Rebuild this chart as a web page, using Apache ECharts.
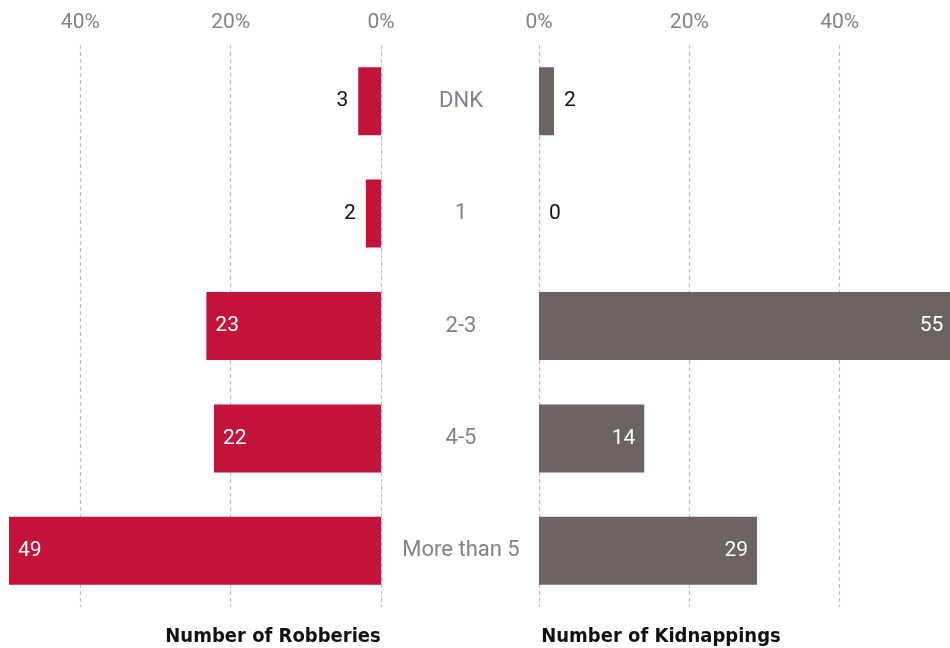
<!DOCTYPE html>
<html>
<head>
<meta charset="utf-8">
<script src="https://cdn.jsdelivr.net/npm/echarts@6/dist/echarts.min.js"></script>
<style>html,body{margin:0;padding:0;background:#fff}#c{width:950px;height:648px}</style>
</head>
<body>
<div id="c"></div>
<script>
const categories = ['DNK', '1', '2-3', '4-5', 'More than 5'];
const robberies = [3, 2, 23, 22, 49];
const kidnappings = [2, 0, 55, 14, 29];
const leftTitle = 'Number of Robberies';
const rightTitle = 'Number of Kidnappings';

const RED = '#c3133b';
const GRAY = '#6c6462';
const LABEL_GRAY = '#82828f';
const FONT = 'Roboto, "Noto Sans", sans-serif';

function share(arr) {
  const total = arr.reduce((a, b) => a + b, 0);
  return arr.map(v => v / total * 100);
}

function labelFor(v, side) {
  const big = v >= 10;
  const base = {show: true, fontSize: 21, fontFamily: FONT, formatter: String(v)};
  if (side === 'left') {
    return Object.assign(base, big ? {position: 'insideLeft', distance: 9, color: '#fff'}
                                   : {position: 'left', distance: 10, color: '#111'});
  }
  return Object.assign(base, big ? {position: 'insideRight', distance: 9, color: '#fff'}
                                 : {position: 'right', distance: 10, color: '#111'});
}

function seriesData(arr, side) {
  const pct = share(arr);
  return arr.map((v, i) => ({value: pct[i], label: labelFor(v, side)}));
}

const chart = echarts.init(document.getElementById('c'));
const axisCommon = {
  type: 'value', min: 0, max: 60, interval: 20, position: 'top',
  axisLine: {show: false}, axisTick: {show: false},
  axisLabel: {formatter: '{value}%', color: LABEL_GRAY, fontSize: 21, fontFamily: FONT, margin: 12},
  splitLine: {show: true, lineStyle: {type: [4, 3], color: '#bdbdbd', width: 1.2}}
};
chart.setOption({
  animation: false,
  grid: [
    {left: -70, right: 569, top: 45, bottom: 41, outerBoundsMode: 'none', containLabel: false},
    {left: 539, right: -40, top: 45, bottom: 41, outerBoundsMode: 'none', containLabel: false}
  ],
  xAxis: [
    Object.assign({gridIndex: 0, inverse: true}, axisCommon),
    Object.assign({gridIndex: 1}, axisCommon)
  ],
  yAxis: [
    {type: 'category', gridIndex: 0, data: categories, inverse: true,
     axisLine: {show: false}, axisTick: {show: false}, axisLabel: {show: false}},
    {type: 'category', gridIndex: 1, data: categories, inverse: true, position: 'left',
     axisLine: {show: false}, axisTick: {show: false},
     axisLabel: {show: true, align: 'center', margin: 78, color: LABEL_GRAY, fontSize: 22, fontFamily: FONT}}
  ],
  series: [
    {type: 'bar', xAxisIndex: 0, yAxisIndex: 0, barWidth: 68,
     data: seriesData(robberies, 'left'),
     itemStyle: {color: RED}},
    {type: 'bar', xAxisIndex: 1, yAxisIndex: 1, barWidth: 68,
     data: seriesData(kidnappings, 'right'),
     itemStyle: {color: GRAY}}
  ],
  graphic: [
    {type: 'text', x: 273, y: 637, style: {text: leftTitle, align: 'center', verticalAlign: 'middle',
      font: 'bold 20px "Liberation Sans Narrow", "DejaVu Sans Condensed", sans-serif', fill: '#111'}},
    {type: 'text', x: 661, y: 637, style: {text: rightTitle, align: 'center', verticalAlign: 'middle',
      font: 'bold 20px "Liberation Sans Narrow", "DejaVu Sans Condensed", sans-serif', fill: '#111'}}
  ]
});
</script>
</body>
</html>
